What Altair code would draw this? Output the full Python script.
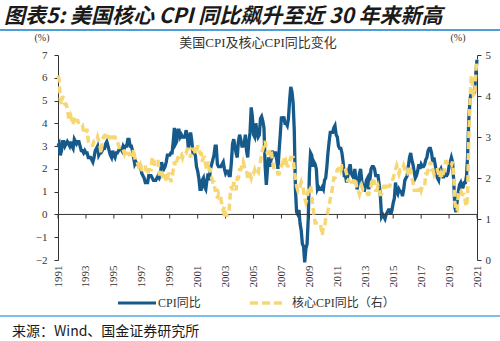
import altair as alt
import pandas as pd

# Monthly YoY (%), Nov 1991 .. Nov 2021
start_month = "1991-11-01"
cpi_yoy = [
    3.0, 3.1,
    2.6, 2.8, 3.2, 3.2, 3.0, 3.1, 3.2, 3.1, 3.0, 3.2, 3.0, 2.9,
    3.3, 3.2, 3.1, 3.2, 3.2, 3.0, 2.8, 2.8, 2.7, 2.8, 2.7, 2.7,
    2.5, 2.5, 2.5, 2.4, 2.3, 2.5, 2.8, 2.9, 3.0, 2.6, 2.7, 2.7,
    2.8, 2.9, 2.9, 3.1, 3.2, 3.0, 2.8, 2.6, 2.5, 2.8, 2.6, 2.5,
    2.7, 2.7, 2.8, 2.9, 2.9, 2.8, 3.0, 2.9, 3.0, 3.0, 3.3, 3.3,
    3.0, 3.0, 2.8, 2.5, 2.2, 2.3, 2.2, 2.2, 2.2, 2.1, 1.8, 1.7,
    1.6, 1.4, 1.4, 1.4, 1.7, 1.7, 1.7, 1.6, 1.5, 1.5, 1.5, 1.6,
    1.7, 1.6, 1.7, 2.3, 2.1, 2.0, 2.1, 2.3, 2.6, 2.6, 2.6, 2.7,
    2.7, 3.2, 3.8, 3.1, 3.2, 3.7, 3.7, 3.4, 3.5, 3.4, 3.4, 3.4,
    3.7, 3.5, 2.9, 3.3, 3.6, 3.2, 2.7, 2.7, 2.6, 2.1, 1.9, 1.6,
    1.1, 1.1, 1.5, 1.6, 1.2, 1.1, 1.5, 1.8, 1.5, 2.0, 2.2, 2.4,
    2.6, 3.0, 3.0, 2.2, 2.1, 2.1, 2.1, 2.2, 2.3, 2.0, 1.8, 1.9,
    1.9, 1.7, 1.7, 2.3, 3.1, 3.3, 3.0, 2.7, 2.5, 3.2, 3.5, 3.3,
    3.0, 3.0, 3.1, 3.5, 2.8, 2.5, 3.2, 3.6, 4.7, 4.3, 3.5, 3.4,
    4.0, 3.6, 3.4, 3.5, 4.2, 4.3, 4.1, 3.8, 2.1, 1.3, 2.0, 2.5,
    2.1, 2.4, 2.8, 2.6, 2.7, 2.7, 2.4, 2.0, 2.8, 3.5, 4.3, 4.1,
    4.3, 4.0, 4.0, 3.9, 4.2, 5.0, 5.6, 5.4, 4.9, 3.7, 1.1, 0.1,
    0.0, 0.2, -0.4, -0.7, -1.3, -1.4, -2.1, -1.5, -1.3, -0.2, 1.8, 2.7,
    2.6, 2.1, 2.3, 2.2, 2.0, 1.1, 1.2, 1.1, 1.1, 1.2, 1.1, 1.5,
    1.6, 2.1, 2.7, 3.2, 3.6, 3.6, 3.6, 3.8, 3.9, 3.5, 3.4, 3.0,
    2.9, 2.9, 2.7, 2.3, 1.7, 1.7, 1.4, 1.7, 2.0, 2.2, 1.8, 1.7,
    1.6, 2.0, 1.5, 1.1, 1.4, 1.8, 2.0, 1.5, 1.2, 1.0, 1.2, 1.5,
    1.6, 1.1, 1.5, 2.0, 2.1, 2.1, 2.0, 1.7, 1.7, 1.7, 1.3, 0.8,
    -0.1, 0.0, -0.1, -0.2, 0.0, 0.1, 0.2, 0.2, 0.0, 0.2, 0.5, 0.7,
    1.4, 1.0, 0.9, 1.1, 1.0, 1.0, 0.8, 1.1, 1.5, 1.6, 1.7, 2.1,
    2.5, 2.7, 2.4, 2.2, 1.9, 1.6, 1.7, 1.9, 2.2, 2.0, 2.2, 2.1,
    2.1, 2.2, 2.4, 2.5, 2.8, 2.9, 2.9, 2.7, 2.3, 2.5, 2.2, 1.9,
    1.6, 1.5, 1.9, 2.0, 1.8, 1.6, 1.8, 1.7, 1.7, 1.8, 2.1, 2.3,
    2.5, 2.3, 1.5, 0.3, 0.1, 0.6, 1.0, 1.3, 1.4, 1.2, 1.2, 1.4,
    1.4, 1.7, 2.6, 4.2, 5.0, 5.4, 5.4, 5.3, 5.4, 6.2, 6.8,
]
core_yoy = [
    4.5, 4.4,
    3.9, 3.8, 4.0, 3.9, 3.8, 3.8, 3.7, 3.5, 3.4, 3.5, 3.4, 3.3,
    3.5, 3.4, 3.4, 3.4, 3.3, 3.3, 3.3, 3.3, 3.1, 3.1, 3.1, 3.2,
    2.9, 2.8, 2.8, 2.8, 2.8, 2.9, 2.9, 2.9, 3.0, 2.9, 2.8, 2.6,
    2.9, 3.0, 3.0, 3.1, 3.1, 3.0, 3.0, 3.0, 2.9, 3.0, 3.0, 3.0,
    2.9, 2.9, 2.8, 2.7, 2.7, 2.7, 2.7, 2.6, 2.7, 2.6, 2.6, 2.6,
    2.5, 2.5, 2.5, 2.7, 2.5, 2.4, 2.4, 2.3, 2.2, 2.3, 2.2, 2.2,
    2.2, 2.3, 2.1, 2.1, 2.2, 2.2, 2.2, 2.5, 2.5, 2.3, 2.4, 2.4,
    2.4, 2.1, 2.1, 2.2, 2.0, 2.1, 2.1, 1.9, 2.0, 2.1, 2.1, 1.9,
    2.0, 2.2, 2.4, 2.3, 2.4, 2.5, 2.5, 2.6, 2.6, 2.5, 2.6, 2.6,
    2.6, 2.7, 2.7, 2.6, 2.5, 2.7, 2.7, 2.7, 2.6, 2.6, 2.8, 2.7,
    2.6, 2.6, 2.4, 2.5, 2.5, 2.3, 2.2, 2.4, 2.2, 2.2, 2.0, 1.9,
    1.9, 1.7, 1.7, 1.5, 1.6, 1.5, 1.5, 1.3, 1.2, 1.3, 1.1, 1.1,
    1.1, 1.2, 1.6, 1.8, 1.7, 1.9, 1.8, 1.7, 2.0, 2.0, 2.2, 2.2,
    2.3, 2.4, 2.3, 2.2, 2.2, 2.0, 2.1, 2.1, 2.0, 2.1, 2.1, 2.2,
    2.1, 2.1, 2.1, 2.3, 2.4, 2.6, 2.7, 2.8, 2.9, 2.7, 2.6, 2.6,
    2.7, 2.7, 2.5, 2.3, 2.2, 2.2, 2.2, 2.1, 2.1, 2.2, 2.3, 2.4,
    2.5, 2.3, 2.4, 2.3, 2.3, 2.4, 2.5, 2.5, 2.5, 2.2, 2.0, 1.8,
    1.7, 1.8, 1.8, 1.9, 1.8, 1.7, 1.5, 1.4, 1.5, 1.7, 1.7, 1.8,
    1.6, 1.3, 1.1, 0.9, 0.9, 0.9, 0.9, 0.9, 0.8, 0.6, 0.8, 0.8,
    1.0, 1.1, 1.2, 1.3, 1.5, 1.6, 1.8, 2.0, 2.0, 2.1, 2.2, 2.2,
    2.3, 2.2, 2.3, 2.3, 2.3, 2.2, 2.1, 1.9, 2.0, 2.0, 1.9, 1.9,
    1.9, 2.0, 1.9, 1.7, 1.7, 1.6, 1.7, 1.8, 1.7, 1.7, 1.7, 1.7,
    1.6, 1.6, 1.7, 1.8, 2.0, 1.9, 1.9, 1.7, 1.7, 1.8, 1.7, 1.6,
    1.6, 1.7, 1.8, 1.8, 1.7, 1.8, 1.8, 1.8, 1.9, 1.9, 2.0, 2.1,
    2.2, 2.3, 2.2, 2.1, 2.2, 2.2, 2.2, 2.3, 2.2, 2.1, 2.1, 2.2,
    2.3, 2.2, 2.0, 1.9, 1.7, 1.7, 1.7, 1.7, 1.7, 1.8, 1.7, 1.8,
    1.8, 1.8, 2.1, 2.1, 2.2, 2.3, 2.4, 2.2, 2.2, 2.1, 2.2, 2.2,
    2.2, 2.1, 2.0, 2.1, 2.0, 2.1, 2.2, 2.4, 2.4, 2.3, 2.3, 2.3,
    2.3, 2.4, 2.1, 1.4, 1.2, 1.2, 1.6, 1.7, 1.7, 1.6, 1.6, 1.6,
    1.4, 1.3, 1.6, 3.0, 3.8, 4.5, 4.3, 4.0, 4.0, 4.6, 4.9,
]
tick_years = list(range(1991, 2022, 2))
left_ticks = list(range(-2, 8))
right_ticks = list(range(0, 6))

title_text = "图表5:  美国核心 CPI 同比飙升至近 30 年来新高"
subtitle_text = "美国CPI及核心CPI同比变化"
legend_cpi = "CPI同比"
legend_core = "核心CPI同比（右）"
source_text = "来源：Wind、国金证券研究所"

BLUE = "#165a8c"
YELLOW = "#f7d774"
SERIF = "'Liberation Serif', 'Noto Sans CJK SC'"
AX = "#333333"

dates = pd.date_range(start_month, periods=len(cpi_yoy), freq="MS")
df = pd.DataFrame({"date": dates, "cpi": cpi_yoy, "core": core_yoy})

x_scale = alt.Scale(domain=[alt.DateTime(year=1991, month=11, date=1),
                            alt.DateTime(year=2021, month=11, date=1)])
x_axis = alt.Axis(values=[alt.DateTime(year=y, month=11, date=1) for y in tick_years],
                  format="%Y", labelAngle=-90, domain=False, ticks=False, grid=False,
                  title=None, labelFont=SERIF, labelFontSize=11, labelColor=AX,
                  labelPadding=5)
left_scale = alt.Scale(domain=[-2, 7], nice=False, zero=False)
left_axis = alt.Axis(values=left_ticks, title=None, grid=False, tickSize=4,
                     labelPadding=7, domainColor=AX, tickColor=AX, labelColor=AX,
                     labelFont=SERIF, labelFontSize=11, orient="left")
right_scale = alt.Scale(domain=[0, 5], nice=False)
right_axis = alt.Axis(values=right_ticks, title=None, grid=False, tickSize=4,
                      labelPadding=4, domainColor=AX, tickColor=AX, labelColor=AX,
                      labelFont=SERIF, labelFontSize=11, orient="right")

X = alt.X("date:T", scale=x_scale, axis=x_axis)

cpi_line = alt.Chart(df).mark_line(color=BLUE, strokeWidth=3.3).encode(
    x=X, y=alt.Y("cpi:Q", scale=left_scale, axis=left_axis))

zero_df = pd.DataFrame({"date": [dates[0]], "date2": [dates[-1]], "cpi": [0.0]})
zero_line = alt.Chart(zero_df).mark_rule(color=AX, strokeWidth=1).encode(
    x=X, x2="date2:T", y=alt.Y("cpi:Q", scale=left_scale, axis=left_axis))

tick_df = pd.DataFrame({"date": [pd.Timestamp(year=y, month=11, day=1) for y in tick_years],
                        "cpi": [0.0] * len(tick_years),
                        "cpi2": [-0.18] * len(tick_years)})
x_ticks = alt.Chart(tick_df).mark_rule(color=AX, strokeWidth=1).encode(
    x=X, y=alt.Y("cpi:Q", scale=left_scale, axis=left_axis), y2="cpi2:Q")

left = alt.layer(cpi_line, zero_line, x_ticks)

core_line = alt.Chart(df).mark_line(color=YELLOW, strokeWidth=3.5, strokeDash=[7, 4]).encode(
    x=X, y=alt.Y("core:Q", scale=right_scale, axis=right_axis))

one = pd.DataFrame({"k": [0]})

def label(text, x, y, size, font=SERIF, align="left", weight="normal", style="normal", color=AX):
    return alt.Chart(one).mark_text(text=text, font=font, fontSize=size, align=align,
                                    baseline="middle", fontWeight=weight, fontStyle=style,
                                    color=color).encode(x=alt.value(x), y=alt.value(y))

def hline(x1, x2, y, color, width, dash=None):
    kw = dict(color=color, strokeWidth=width)
    if dash:
        kw["strokeDash"] = dash
    return alt.Chart(one).mark_rule(**kw).encode(x=alt.value(x1), x2=alt.value(x2), y=alt.value(y))

annotations = [
    label(title_text, -54, -38, 21, font="'Noto Sans CJK SC'", weight="bold", style="italic", color="#1a1a1a"),
    hline(-58, 442, -25, "#4f9fd6", 2),
    label(subtitle_text, 200, -12, 13, align="center"),
    label("(%)", -16, -17, 10, align="center"),
    label("(%)", 400, -17, 10, align="center"),
    hline(60, 98, 248, BLUE, 3),
    label(legend_cpi, 100, 248, 12),
    hline(192, 228, 248, YELLOW, 3.5, dash=[8, 4]),
    label(legend_core, 234, 248, 12),
    hline(-58, 442, 261, "#7cc0ea", 2),
    label(source_text, -46, 277, 14, font="'Noto Sans CJK SC'", color="#1a1a1a"),
]

chart = alt.layer(left, core_line, *annotations).resolve_scale(y="independent").properties(
    width=419, height=205,
    padding={"left": 58, "top": 55, "right": 23, "bottom": 81},
    autosize=alt.AutoSizeParams(type="none"),
).configure_view(strokeWidth=0)

chart.save("out.html", embed_options={"renderer": "svg", "actions": False})
